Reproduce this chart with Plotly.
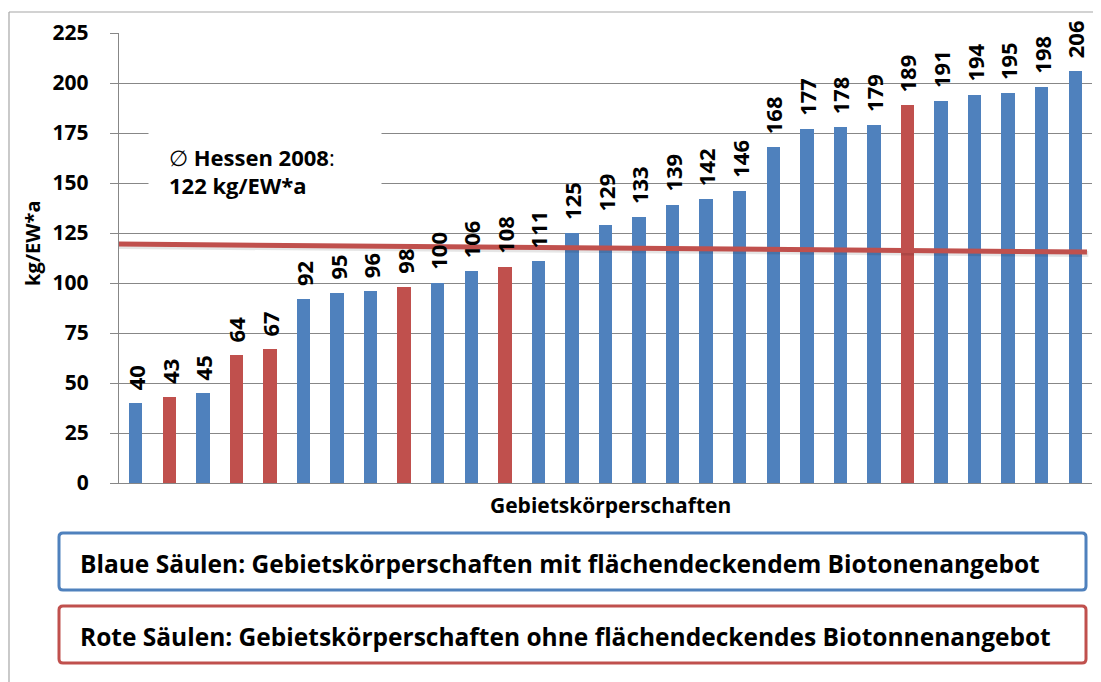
import plotly.graph_objects as go

# ---- data ----
values = [40, 43, 45, 64, 67, 92, 95, 96, 98, 100, 106, 108, 111, 125, 129, 133,
          139, 142, 146, 168, 177, 178, 179, 189, 191, 194, 195, 198, 206]
groups = ["b", "r", "b", "r", "r", "b", "b", "b", "r", "b", "b", "r", "b", "b", "b", "b",
          "b", "b", "b", "b", "b", "b", "b", "r", "b", "b", "b", "b", "b"]
trend_x = [-0.56, 28.35]
trend_y = [119.5, 115.5]
y_ticks = [0, 25, 50, 75, 100, 125, 150, 175, 200, 225]
y_title = "kg/EW*a"
x_title = "Gebietskörperschaften"
note_lines = ["∅ <b>Hessen 2008</b>:", "<b>122 kg/EW*a</b>"]
legend_blue = "Blaue Säulen: Gebietskörperschaften mit flächendeckendem Biotonenangebot"
legend_red = "Rote Säulen: Gebietskörperschaften ohne flächendeckendes Biotonnenangebot"

BLUE = "#4f81bd"
RED = "#c0504d"
GRID = "#878787"
FONT = "Open Sans"

# page offset (browser body margin) and plot area in page pixels
OFF = 8
PAGE_W, PAGE_H = 1101, 682
W_FIG, H_FIG = PAGE_W - OFF, PAGE_H - OFF
L, R, T, B = 119, 1092, 33, 483
PW, PH = R - L, B - T


def px(x):
    return (x - L) / PW


def py(y):
    return (B - y) / PH


xs = list(range(len(values)))
colors = [BLUE if g == "b" else RED for g in groups]

fig = go.Figure()
fig.add_trace(go.Bar(x=xs, y=values, marker=dict(color=colors, line=dict(width=0)),
                     width=0.40, hoverinfo="y"))
# soft shadow of the line
fig.add_trace(go.Scatter(x=[v + 0.04 for v in trend_x], y=[v - 1.0 for v in trend_y],
                         mode="lines", line=dict(color="rgba(0,0,0,0.10)", width=6),
                         cliponaxis=False, hoverinfo="skip"))
fig.add_trace(go.Scatter(x=trend_x, y=trend_y, mode="lines",
                         line=dict(color=RED, width=5), cliponaxis=False,
                         hoverinfo="skip"))

annotations = []
for x, v in zip(xs, values):
    annotations.append(dict(x=x, y=v, xref="x", yref="y", text=str(v), showarrow=False,
                            textangle=-90, xanchor="center", yanchor="bottom", yshift=11,
                            font=dict(family=FONT, size=22, color="black", weight="bold")))

# average note with white box covering grid lines
annotations.append(dict(xref="paper", yref="paper", x=px(148), y=py(171),
                        xanchor="left", yanchor="middle", align="left",
                        text="<br>".join(note_lines), showarrow=False,
                        bgcolor="white", width=192, height=60, borderpad=20,
                        font=dict(family=FONT, size=22, color="black")))
# axis titles
annotations.append(dict(xref="paper", yref="paper", x=px(32), y=py(244),
                        text="<b>" + y_title + "</b>", textangle=-90, showarrow=False,
                        xanchor="center", yanchor="middle",
                        font=dict(family=FONT, size=20, color="black")))
annotations.append(dict(xref="paper", yref="paper", x=px(610), y=py(505),
                        text="<b>" + x_title + "</b>", showarrow=False,
                        xanchor="center", yanchor="middle",
                        font=dict(family=FONT, size=21, color="black")))
# legend texts
annotations.append(dict(xref="paper", yref="paper", x=px(78), y=py(563),
                        text="<b>" + legend_blue + "</b>", showarrow=False,
                        xanchor="left", yanchor="middle",
                        font=dict(family=FONT, size=24.5, color="black")))
annotations.append(dict(xref="paper", yref="paper", x=px(78), y=py(636),
                        text="<b>" + legend_red + "</b>", showarrow=False,
                        xanchor="left", yanchor="middle",
                        font=dict(family=FONT, size=24.5, color="black")))


def rounded_rect(x0, y0, x1, y1, r=4):
    X0, X1 = px(x0), px(x1)
    Y0, Y1 = py(y0), py(y1)
    rx, ry = r / PW, r / PH
    return (f"M {X0+rx},{Y0} L {X1-rx},{Y0} Q {X1},{Y0} {X1},{Y0-ry} "
            f"L {X1},{Y1+ry} Q {X1},{Y1} {X1-rx},{Y1} L {X0+rx},{Y1} "
            f"Q {X0},{Y1} {X0},{Y1+ry} L {X0},{Y0-ry} Q {X0},{Y0} {X0+rx},{Y0} Z")


shapes = [
    # outer chart border (top and left visible)
    dict(type="line", xref="paper", yref="paper", x0=px(9), x1=px(1101), y0=py(12), y1=py(12),
         line=dict(color="#a6a6a6", width=1.2)),
    dict(type="line", xref="paper", yref="paper", x0=px(9), x1=px(9), y0=py(12), y1=py(682),
         line=dict(color="#a6a6a6", width=1.2)),
    dict(type="path", xref="paper", yref="paper", path=rounded_rect(59, 533, 1086, 590),
         line=dict(color=BLUE, width=3), fillcolor="white"),
    dict(type="path", xref="paper", yref="paper", path=rounded_rect(59, 606, 1086, 663),
         line=dict(color=RED, width=3), fillcolor="white"),
]

fig.update_layout(
    width=W_FIG, height=H_FIG,
    margin=dict(l=L - OFF, r=PAGE_W - R, t=T - OFF, b=PAGE_H - B, pad=0),
    paper_bgcolor="white", plot_bgcolor="white",
    showlegend=False,
    bargap=0,
    font=dict(family=FONT, color="black"),
    annotations=annotations,
    shapes=shapes,
    xaxis=dict(range=[-0.5, len(values) - 0.5], showticklabels=False, showgrid=False,
               zeroline=False, showline=True, linecolor=GRID, linewidth=1.3, ticks=""),
    yaxis=dict(range=[0, 225], tickvals=y_ticks, ticks="outside", ticklen=8,
               tickcolor=GRID, tickwidth=1.3, showgrid=True, gridcolor=GRID, gridwidth=1.3,
               showline=True, linecolor=GRID, linewidth=1.3, zeroline=False,
               ticklabelstandoff=17,
               tickfont=dict(family=FONT, size=21, color="black", weight="bold")),
)

fig.write_html("out.html")
